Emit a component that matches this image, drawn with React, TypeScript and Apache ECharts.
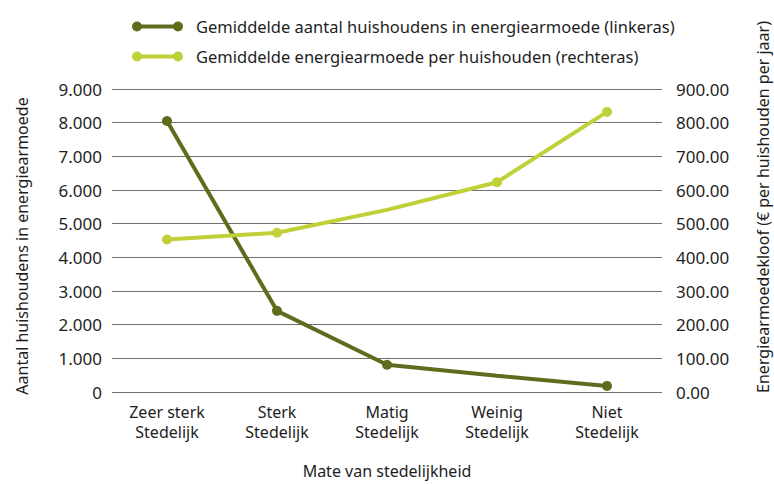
import React, { useEffect, useRef } from "react";
import * as echarts from "echarts";

const categories = ["Zeer sterk\nStedelijk", "Sterk\nStedelijk", "Matig\nStedelijk", "Weinig\nStedelijk", "Niet\nStedelijk"];
const huishoudens = [8050, 2410, 810, 480, 180];
const huishoudensMarker = [true, true, true, false, true];
const kloof = [453, 473, 541, 623, 832];
const kloofMarker = [true, true, false, true, true];
const seriesNames = [
  "Gemiddelde aantal huishoudens in energiearmoede (linkeras)",
  "Gemiddelde energiearmoede per huishouden (rechteras)",
];
const leftAxisTitle = "Aantal huishoudens in energiearmoede";
const rightAxisTitle = "Energiearmoedekloof (€ per huishouden per jaar)";
const xAxisTitle = "Mate van stedelijkheid";

const DARK = "#5f6c1d";
const LIGHT = "#c0d039";
const FONT = "Noto Sans";
const TEXT = "#1e1e1e";
const ICON = "path://M0,5a5,5 0 1,0 10,0a5,5 0 1,0 -10,0z M41,5a5,5 0 1,0 10,0a5,5 0 1,0 -10,0z M5,3 L5,7 L46,7 L46,3z";

export default function App() {
  const ref = useRef<HTMLDivElement>(null);
  useEffect(() => {
    if (!ref.current) return;
    const chart = echarts.init(ref.current, null, { renderer: "svg" });
    const textStyle = { fontFamily: FONT, color: TEXT, fontSize: 16 };
    chart.setOption({
      animation: false,
      textStyle: { fontFamily: FONT },
      legend: {
        orient: "vertical",
        left: 127,
        top: 13,
        itemWidth: 51,
        itemHeight: 10,
        itemGap: 13,
        textStyle: { ...textStyle, fontSize: 16.5, padding: [0, 0, 0, 8] },
        data: [
          { name: seriesNames[0], icon: ICON, itemStyle: { color: DARK } },
          { name: seriesNames[1], icon: ICON, itemStyle: { color: LIGHT } },
        ],
      },
      grid: { left: 112, right: 112, top: 89, bottom: 91 },
      xAxis: {
        type: "category",
        data: categories,
        boundaryGap: true,
        axisLine: { show: false },
        axisTick: { show: false },
        axisLabel: { ...textStyle, margin: 10, lineHeight: 20, interval: 0 },
        name: xAxisTitle,
        nameLocation: "middle",
        nameGap: 71,
        nameTextStyle: { ...textStyle },
      },
      yAxis: [
        {
          type: "value",
          position: "left",
          min: 0,
          max: 9000,
          interval: 1000,
          axisLine: { show: false },
          axisTick: { show: false },
          axisLabel: {
            ...textStyle,
            fontSize: 17,
            margin: 10,
            formatter: (v: number) => (v === 0 ? "0" : v.toLocaleString("de-DE")),
          },
          splitLine: { show: true, lineStyle: { color: "#707070", width: 1 } },
        },
        {
          type: "value",
          position: "right",
          min: 0,
          max: 900,
          interval: 100,
          axisLine: { show: false },
          axisTick: { show: false },
          axisLabel: { ...textStyle, fontSize: 17, margin: 14, formatter: (v: number) => v.toFixed(2) },
          splitLine: { show: false },
        },
      ],
      series: [
        {
          name: seriesNames[0],
          type: "line",
          yAxisIndex: 0,
          data: huishoudens.map((v, i) => ({ value: v, symbol: huishoudensMarker[i] ? "circle" : "none" })),
          symbolSize: 10,
          lineStyle: { color: DARK, width: 4 },
          itemStyle: { color: DARK },
        },
        {
          name: seriesNames[1],
          type: "line",
          yAxisIndex: 1,
          data: kloof.map((v, i) => ({ value: v, symbol: kloofMarker[i] ? "circle" : "none" })),
          symbolSize: 10,
          lineStyle: { color: LIGHT, width: 4 },
          itemStyle: { color: LIGHT },
        },
      ],
      graphic: [
        {
          type: "text",
          x: 22,
          y: 246,
          rotation: Math.PI / 2,
          style: { text: leftAxisTitle, font: `16px ${FONT}`, fill: TEXT, align: "center", verticalAlign: "middle" },
        },
        {
          type: "text",
          x: 763,
          y: 207,
          rotation: Math.PI / 2,
          style: { text: rightAxisTitle, font: `16px ${FONT}`, fill: TEXT, align: "center", verticalAlign: "middle" },
        },
      ],
    });
    return () => chart.dispose();
  }, []);
  return <div ref={ref} style={{ width: 774, height: 484, position: "absolute", left: 0, top: 0 }} />;
}
